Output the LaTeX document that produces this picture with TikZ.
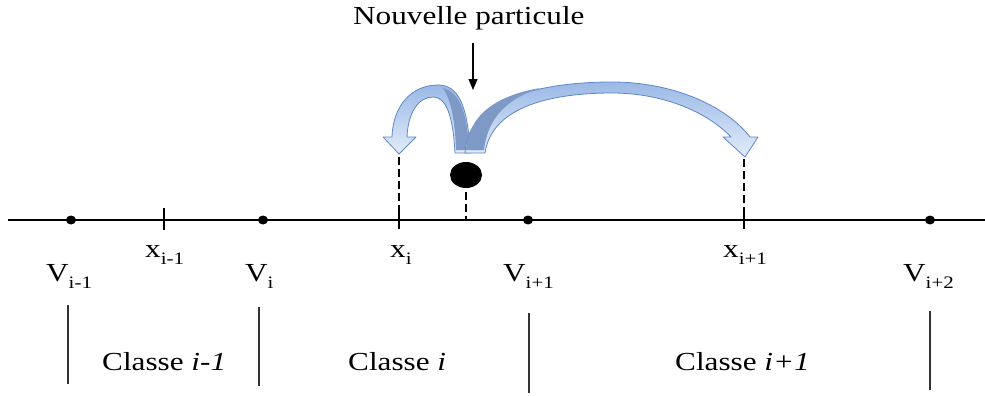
\documentclass[tikz,border=0pt]{standalone}
\usepackage{fontspec}
\setmainfont{Liberation Serif}[FakeStretch=1.2]
\usetikzlibrary{arrows.meta,shapes.geometric}
\definecolor{ribbonlight}{HTML}{E2ECFA}
\definecolor{ribbonmid}{HTML}{9BB9E6}
\definecolor{ribbonedge}{HTML}{5F87C6}
\definecolor{ribbondark}{HTML}{7E99C6}
\newcommand\lowsub[1]{\raisebox{-0.28em}{\fontsize{17.5}{17.5}\selectfont #1}}
\begin{document}
\begin{tikzpicture}[x=1pt,y=-1pt,
  lbl/.style={anchor=base west,inner sep=0pt,font=\fontsize{26}{26}\selectfont},
  dotv/.style={ellipse,fill=black,inner sep=0pt,minimum width=10pt,minimum height=9pt},
  tickmark/.style={line width=1.3pt},
  dashmark/.style={line width=1.2pt,dash pattern=on 8pt off 4pt},
  sepline/.style={line width=1.2pt,draw=black!80},
  ribbon/.style={draw=ribbonedge,line width=0.8pt,top color=ribbonmid,bottom color=ribbonlight,line join=round}]
\useasboundingbox (0,0) rectangle (985,396);

% main axis
\coordinate (L) at (8,220);
\coordinate (R) at (985,220);
\draw[line width=1.4pt] (L) -- (R);

% V points
\node[dotv] (v1) at (71,220) {};
\node[dotv] (v2) at (263,220) {};
\node[dotv] (v3) at (528,220) {};
\node[dotv] (v4) at (930,220) {};

% x ticks
\coordinate (xa) at (164,220);
\coordinate (xb) at (399,220);
\coordinate (xc) at (744,220);
\draw[tickmark] (164,208) -- (164,230);
\draw[tickmark] (399,208) -- (399,229);
\draw[tickmark] (744,208) -- (744,229);
\draw[dashmark] (399,157) -- (399,212);
\draw[dashmark] (744,159) -- (744,212);

% particle
\node[ellipse,fill=black,minimum width=32pt,minimum height=26pt,inner sep=0pt,draw=none] (p) at (466,175) {};
\coordinate (pd) at (466,220);
\draw[dashmark] (466,192) -- (pd);

% labels
\node[lbl] (lv1) at (46,281) {V\lowsub{i-1}};
\node[lbl] (lv2) at (245,281) {V\lowsub{i}};
\node[lbl] (lv3) at (503,281) {V\lowsub{i+1}};
\node[lbl] (lv4) at (903,281) {V\lowsub{i+2}};
\node[lbl] (lx1) at (145,257) {x\lowsub{i-1}};
\node[lbl] (lx2) at (390,257) {x\lowsub{i}};
\node[lbl] (lx3) at (723,257) {x\lowsub{i+1}};

% classes
\node[lbl] (c1) at (102,370) {Classe \textit{i-1}};
\node[lbl] (c2) at (348,370) {Classe \textit{i}};
\node[lbl] (c3) at (675,370) {Classe \textit{i+1}};
\draw[sepline] (68,305) -- (68,384);
\draw[sepline] (259,307) -- (259,386);
\draw[sepline] (529,313) -- (529,393);
\draw[sepline] (930,311) -- (930,390);

% title and arrow
\node[lbl] (t) at (353,25) {Nouvelle particule};
\coordinate (ta) at (473,43);
\coordinate (tb) at (473,90);
\draw[line width=1.2pt,-{Triangle[length=11pt,width=9pt]}] (ta) -- (tb);

% left ribbon arrow
\path[ribbon] (470,153) .. controls (468,105) and (458,85) .. (438,85)
  .. controls (412,85) and (393,105) .. (392,137) -- (383,137) -- (399,154) -- (416,137) -- (407,137)
  .. controls (408,113) and (418,97) .. (433,97)
  .. controls (446,97) and (453,115) .. (455,153) -- cycle;
\fill[ribbondark] (469,150) .. controls (467,110) and (459,92) .. (443,88)
  .. controls (451,100) and (455,120) .. (456,150) -- cycle;

% right ribbon arrow
\path[ribbon] (465,153) .. controls (468,95) and (550,82) .. (612,82)
  .. controls (672,82) and (725,105) .. (750,137) -- (758,137) -- (745,157) -- (723,137) -- (731,137)
  .. controls (705,110) and (660,93) .. (612,93)
  .. controls (555,93) and (492,105) .. (485,153) -- cycle;
\fill[ribbondark] (466,150) .. controls (469,112) and (500,95) .. (540,88)
  .. controls (510,98) and (488,115) .. (484,150) -- cycle;
\end{tikzpicture}
\end{document}
